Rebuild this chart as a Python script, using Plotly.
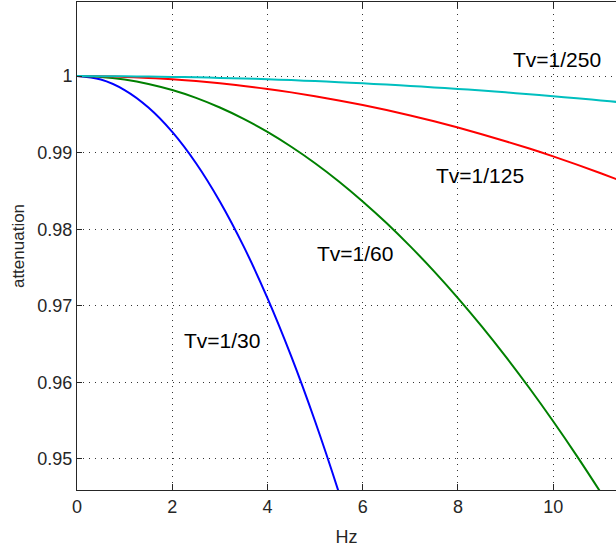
import plotly.graph_objects as go

# Frequency samples (Hz)
hz = [0, 0.5, 1, 1.5, 2, 2.5, 3, 3.5, 4, 4.5, 5, 5.5, 6, 6.5, 7, 7.5, 8, 8.5,
      9, 9.5, 10, 10.5, 11, 11.5, 12]

# Attenuation for each shutter speed
att_30 = [1.0, 0.99954, 0.99817, 0.99589, 0.99271, 0.98862, 0.98363, 0.97776,
          0.97101, 0.96340, 0.95493, 0.94562, 0.93549]
att_60 = [1.0, 0.99989, 0.99954, 0.99897, 0.99817, 0.99715, 0.99589, 0.99441,
          0.99271, 0.99077, 0.98862, 0.98624, 0.98363, 0.98081, 0.97776, 0.97450,
          0.97101, 0.96731, 0.96340, 0.95927, 0.95493, 0.95038, 0.94562, 0.94066,
          0.93549]
att_125 = [1.0, 0.99997, 0.99989, 0.99976, 0.99958, 0.99934, 0.99905, 0.99871,
           0.99832, 0.99787, 0.99737, 0.99682, 0.99622, 0.99556, 0.99485, 0.99409,
           0.99328, 0.99241, 0.99149, 0.99053, 0.98951, 0.98843, 0.98731, 0.98614,
           0.98491]
att_250 = [1.0, 0.99999, 0.99997, 0.99994, 0.99989, 0.99984, 0.99976, 0.99968,
           0.99958, 0.99947, 0.99934, 0.99920, 0.99905, 0.99889, 0.99871, 0.99852,
           0.99832, 0.99810, 0.99787, 0.99763, 0.99737, 0.99710, 0.99682, 0.99652,
           0.99622]

series = [
    (att_30, "#0000FF"),
    (att_60, "#008000"),
    (att_125, "#FF0000"),
    (att_250, "#00BFBF"),
]

labels = ["Tv=1/250", "Tv=1/125", "Tv=1/60", "Tv=1/30"]
label_x = [10.08, 8.47, 5.84, 3.05]
label_y = [1.0021, 0.98706, 0.97686, 0.96549]

x_ticks = [0, 2, 4, 6, 8, 10]
y_ticks = [0.95, 0.96, 0.97, 0.98, 0.99, 1.0]
y_tick_text = ["0.95", "0.96", "0.97", "0.98", "0.99", "1"]

fig = go.Figure()
for vals, col in series:
    fig.add_trace(go.Scatter(x=hz[:len(vals)], y=vals, mode="lines",
                             line=dict(color=col, width=2, shape="spline"),
                             showlegend=False, hoverinfo="skip"))

for t, lx, ly in zip(labels, label_x, label_y):
    fig.add_annotation(x=lx, y=ly, text=t, showarrow=False,
                       font=dict(family="Liberation Sans, Arial, sans-serif",
                                 size=21, color="black"),
                       xanchor="center", yanchor="middle")

axis_font = dict(family="Liberation Sans, Arial, sans-serif", size=18, color="#262626")

fig.update_layout(
    width=616, height=550,
    margin=dict(l=77, r=0, t=2, b=60),
    paper_bgcolor="white", plot_bgcolor="white",
    xaxis=dict(range=[0, 11.32], tickvals=x_ticks, ticks="inside", ticklen=6,
               tickcolor="#262626", showline=True, linecolor="#262626", linewidth=1,
               mirror="ticks", showgrid=True, gridcolor="#333333", gridwidth=1,
               griddash="1px,5px", zeroline=False, tickfont=axis_font,
               title=dict(text="Hz", font=dict(family="Liberation Sans, Arial, sans-serif",
                                               size=18, color="#262626"), standoff=14)),
    yaxis=dict(range=[0.94595, 1.00967], tickvals=y_ticks, ticktext=y_tick_text,
               ticks="inside", ticklen=5, tickcolor="#262626", showline=True,
               linecolor="#262626", linewidth=1, mirror=False, showgrid=True,
               gridcolor="#333333", gridwidth=1, griddash="1px,5px", zeroline=False,
               tickfont=axis_font,
               title=dict(text="attenuation", font=dict(family="Liberation Sans, Arial, sans-serif",
                                                        size=17, color="#262626"), standoff=8)),
)

fig.write_html("out.html")
